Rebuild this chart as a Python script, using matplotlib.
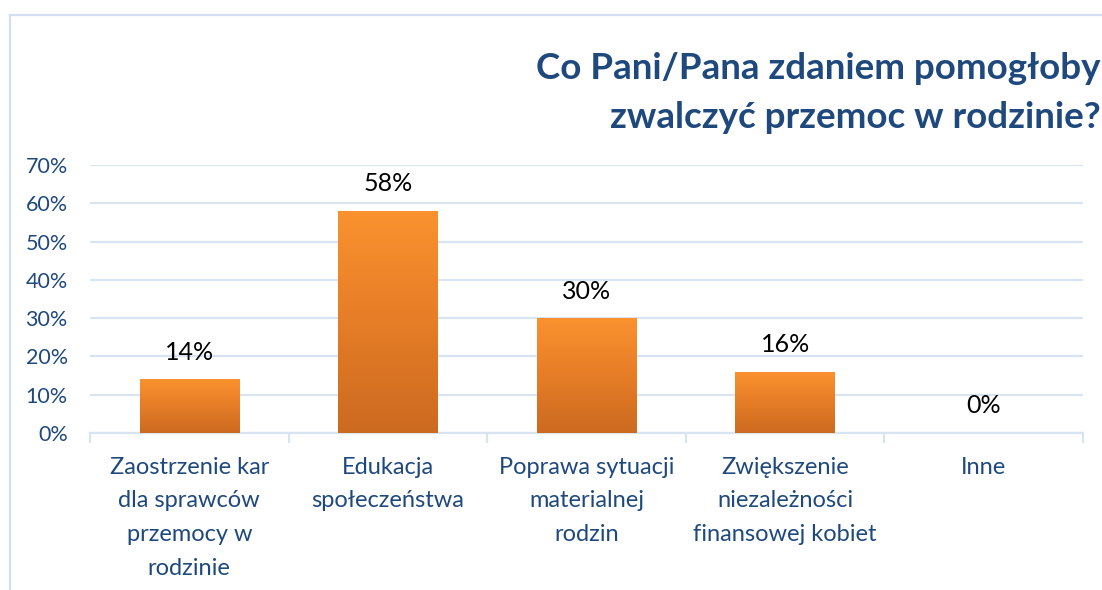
import numpy as np
import matplotlib
matplotlib.use("Agg")
import matplotlib.pyplot as plt
import matplotlib.patheffects as pe
from matplotlib.colors import LinearSegmentedColormap
from matplotlib.lines import Line2D

# ---------- data ----------
categories = [
    "Zaostrzenie kar\ndla sprawców\nprzemocy w\nrodzinie",
    "Edukacja\nspołeczeństwa",
    "Poprawa sytuacji\nmaterialnej\nrodzin",
    "Zwiększenie\nniezależności\nfinansowej kobiet",
    "Inne",
]
values = [0.14, 0.58, 0.30, 0.16, 0.0]
value_labels = ["14%", "58%", "30%", "16%", "0%"]
yticks = [0, 0.1, 0.2, 0.3, 0.4, 0.5, 0.6, 0.7]
ytick_labels = ["0%", "10%", "20%", "30%", "40%", "50%", "60%", "70%"]
title = "Co Pani/Pana zdaniem pomogłoby\nzwalczyć przemoc w rodzinie?"

# ---------- style ----------
W, H = 1102, 590
DARK_BLUE = "#1f497d"
GRID = "#d9e4f2"
FONT = "Lato"
bar_cmap = LinearSegmentedColormap.from_list("orange", ["#cc6a20", "#e67d27", "#fb922f"])

fig = plt.figure(figsize=(W / 100, H / 100), dpi=100)
fig.patch.set_facecolor("white")

# outer frame (top + left)
fig.add_artist(Line2D([10 / W, 1], [1 - 15 / H, 1 - 15 / H], color="#d3def0", lw=1.6))
fig.add_artist(Line2D([10 / W, 10 / W], [0, 1 - 15 / H], color="#d3def0", lw=1.6))

ax = fig.add_axes([90 / W, 1 - 433 / H, (1083 - 90) / W, (433 - 165) / H])
x = np.arange(len(categories))
bars = ax.bar(x, values, width=0.5, color="#e67d27", zorder=3,
              path_effects=[pe.SimplePatchShadow(offset=(0, -2.5), shadow_rgbFace="#888888", alpha=0.45),
                            pe.Normal()])

# gradient fill clipped to each bar
grad = np.linspace(0, 1, 256).reshape(-1, 1)
for b in bars:
    if b.get_height() <= 0:
        continue
    x0, y0 = b.get_x(), b.get_y()
    im = ax.imshow(grad, cmap=bar_cmap, origin="lower", aspect="auto", zorder=4,
                   extent=[x0, x0 + b.get_width(), y0, y0 + b.get_height()])
    im.set_clip_path(b)

for xi, v, lab in zip(x, values, value_labels):
    ax.annotate(lab, (xi, v), xytext=(0, 19.5), textcoords="offset points",
                ha="center", va="center", fontsize=18, color="black", family=FONT)

ax.set_xlim(-0.5, len(categories) - 0.5)
ax.set_ylim(0, 0.7)
ax.set_yticks(yticks)
ax.set_yticklabels(ytick_labels)
ax.set_xticks(x)
ax.set_xticklabels(categories, linespacing=1.75)
ax.set_xticks(np.arange(-0.5, len(categories)), minor=True)

ax.grid(axis="y", color=GRID, lw=1.6, zorder=0)
ax.set_axisbelow(True)
for s in ["top", "right", "left"]:
    ax.spines[s].set_visible(False)
ax.spines["bottom"].set_color(GRID)
ax.spines["bottom"].set_linewidth(1.6)

ax.tick_params(axis="y", length=0, pad=16, labelsize=15.5, labelcolor=DARK_BLUE)
ax.tick_params(axis="x", which="major", length=0, pad=17, labelsize=17, labelcolor=DARK_BLUE)
ax.tick_params(axis="x", which="minor", length=7, width=1.6, color=GRID)
for t in ax.get_xticklabels() + ax.get_yticklabels():
    t.set_family(FONT)
for t in ax.get_xticklabels():
    t.set_verticalalignment("top")
    t.set_multialignment("center")

fig.text(1101 / W, 1 - 52 / H, title, ha="right", va="top", multialignment="right",
         fontsize=26.5, fontweight="bold", color=DARK_BLUE, family=FONT, linespacing=1.6)

fig.savefig("out.png", dpi=100, facecolor="white")
